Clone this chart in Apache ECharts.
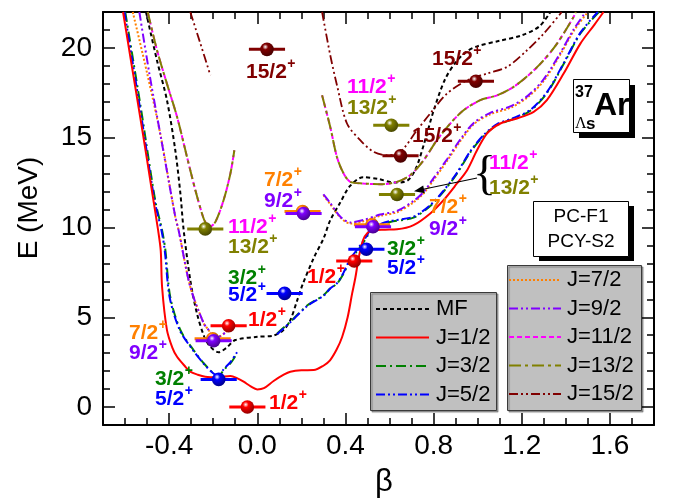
<!DOCTYPE html>
<html>
<head>
<meta charset="utf-8">
<script src="https://cdn.jsdelivr.net/npm/echarts@6/dist/echarts.min.js"></script>
<style>
html, body { margin: 0; padding: 0; background: #fff; }
#chart { width: 675px; height: 498px; }
</style>
</head>
<body>
<div id="chart"></div>
<script>
const FONT = '"Liberation Sans", Arial, Helvetica, sans-serif';

// Axis ticks
const xMajorTicks = [-0.4, 0.0, 0.4, 0.8, 1.2, 1.6];
const xMinorTicks = [-0.6, -0.5, -0.3, -0.2, -0.1, 0.1, 0.2, 0.3, 0.5, 0.6, 0.7, 0.9, 1.0, 1.1, 1.3, 1.4, 1.5, 1.7];
const yMajorTicks = [0, 5, 10, 15, 20];
const yMinorTicks = [-1, 1, 2, 3, 4, 6, 7, 8, 9, 11, 12, 13, 14, 16, 17, 18, 19, 21];

// Projected energy curves E(beta), [beta, E in MeV]
const curveMF = [
  [-0.505, 22], [-0.455, 19.3], [-0.41, 17.1], [-0.372, 14.3], [-0.349, 11.9], [-0.334, 9.85],
  [-0.304, 7.07], [-0.274, 5.22], [-0.24, 3.9], [-0.213, 3.36], [-0.175, 3.05], [-0.14, 3.3],
  [-0.1, 3.73], [0.0, 3.91], [0.074, 3.98], [0.12, 4.3], [0.15, 4.84], [0.18, 5.9], [0.205, 6.8],
  [0.256, 8.3], [0.301, 9.4], [0.331, 10.4], [0.377, 11.4], [0.42, 12.3], [0.48, 12.8],
  [0.55, 12.7], [0.62, 12.5], [0.68, 12.6], [0.72, 13.3], [0.76, 14.8], [0.8, 16.5],
  [0.85, 18.2], [0.9, 19.2], [0.95, 19.8], [1.0, 20.1], [1.1, 20.4], [1.2, 20.7],
  [1.28, 21.2], [1.33, 22]
];
const curveJ1 = [
  [-0.609, 22], [-0.576, 19.5], [-0.52, 15.3], [-0.48, 12.2], [-0.45, 9.85], [-0.438, 8.7],
  [-0.432, 6.7], [-0.41, 4.3], [-0.385, 3.3], [-0.364, 2.8], [-0.33, 2.3], [-0.304, 1.97],
  [-0.27, 1.8], [-0.236, 1.69], [-0.18, 1.66], [-0.122, 1.73], [-0.09, 1.6], [-0.062, 1.41],
  [-0.03, 1.15], [0.0, 0.98], [0.03, 1.05], [0.074, 1.45], [0.12, 1.8], [0.15, 1.97],
  [0.2, 2.05], [0.256, 2.06], [0.3, 2.3], [0.33, 2.6], [0.36, 3.2], [0.385, 3.9],
  [0.41, 5.0], [0.43, 6.3], [0.445, 7.2], [0.46, 8.3], [0.48, 9.3], [0.5, 9.7],
  [0.525, 9.85], [0.58, 9.88], [0.634, 9.9], [0.709, 10.13], [0.785, 10.78], [0.845, 11.52],
  [0.906, 12.45], [0.952, 13.19], [0.997, 14.3], [1.042, 15.23], [1.103, 15.79], [1.178, 16.07],
  [1.254, 16.44], [1.314, 17.09], [1.39, 18.57], [1.466, 20.24], [1.53, 21.3], [1.571, 22]
];
const curveJ3Left = [
  [-0.599, 22], [-0.53, 16.8], [-0.463, 11.5], [-0.432, 9.85], [-0.417, 8.74], [-0.395, 6.14],
  [-0.349, 4.29], [-0.289, 3.17], [-0.236, 2.34], [-0.198, 1.88], [-0.175, 1.72], [-0.153, 2.06],
  [-0.122, 2.43], [-0.092, 2.99]
];
const curveJ3Right = [
  [0.09, 4.1], [0.15, 4.75], [0.226, 5.65], [0.301, 6.23], [0.331, 6.61], [0.362, 6.88],
  [0.39, 7.4], [0.422, 8.18], [0.467, 8.92], [0.498, 9.48], [0.513, 9.85], [0.56, 10.15],
  [0.603, 10.31], [0.709, 10.55], [0.785, 11.2], [0.845, 12.0], [0.906, 13.0], [0.967, 14.2],
  [1.027, 15.1], [1.088, 15.7], [1.163, 16.05], [1.239, 16.5], [1.315, 17.5], [1.39, 19.1],
  [1.466, 20.8], [1.55, 22]
];
const curveJ5Left = [
  [-0.603, 22], [-0.534, 16.8], [-0.466, 11.5], [-0.435, 9.85], [-0.42, 8.74], [-0.398, 6.14],
  [-0.352, 4.29], [-0.292, 3.17], [-0.238, 2.34], [-0.2, 1.88], [-0.176, 1.72], [-0.153, 2.1],
  [-0.122, 2.5], [-0.092, 3.05]
];
const curveJ5Right = [
  [0.09, 4.05], [0.15, 4.72], [0.226, 5.62], [0.301, 6.2], [0.331, 6.6], [0.362, 6.9],
  [0.39, 7.45], [0.422, 8.25], [0.467, 9.0], [0.498, 9.55], [0.513, 9.9], [0.56, 10.2],
  [0.603, 10.36], [0.709, 10.6], [0.785, 11.25], [0.845, 12.05], [0.906, 13.05], [0.967, 14.25],
  [1.027, 15.15], [1.088, 15.75], [1.163, 16.1], [1.239, 16.55], [1.315, 17.55], [1.39, 19.15],
  [1.466, 20.85], [1.545, 22]
];
const curveJ7Left = [
  [-0.565, 22], [-0.5, 18.6], [-0.44, 15.2], [-0.372, 10.6], [-0.357, 9.85], [-0.304, 6.7],
  [-0.243, 4.66], [-0.221, 4.29], [-0.2, 3.85], [-0.175, 3.9], [-0.14, 4.2], [-0.115, 4.5]
];
const curveJ7Right = [
  [0.3, 11.8], [0.331, 11.3], [0.377, 10.55], [0.422, 10.22], [0.482, 10.35], [0.558, 10.65],
  [0.634, 10.85], [0.709, 11.4], [0.755, 11.9], [0.8, 12.65], [0.861, 13.7], [0.921, 14.8],
  [0.982, 15.75], [1.057, 16.3], [1.148, 16.66], [1.224, 17.22], [1.299, 18.15], [1.375, 19.63],
  [1.435, 20.93], [1.5, 22]
];
const curveJ9Left = [
  [-0.535, 22], [-0.49, 18.6], [-0.44, 15.2], [-0.372, 10.6], [-0.357, 9.85], [-0.304, 6.7],
  [-0.243, 4.66], [-0.221, 4.29], [-0.2, 3.85], [-0.175, 3.9], [-0.14, 4.2], [-0.115, 4.5]
];
const curveJ9Right = [
  [0.3, 11.85], [0.331, 11.36], [0.377, 10.6], [0.422, 10.28], [0.482, 10.42], [0.558, 10.72],
  [0.634, 10.92], [0.709, 11.48], [0.755, 11.98], [0.8, 12.75], [0.861, 13.8], [0.921, 14.9],
  [0.982, 15.82], [1.057, 16.38], [1.148, 16.74], [1.224, 17.3], [1.299, 18.25], [1.375, 19.72],
  [1.435, 21.02], [1.49, 22]
];
const curveJ11Left = [
  [-0.497, 22], [-0.455, 19.87], [-0.41, 18.01], [-0.364, 16.16], [-0.319, 13.93], [-0.281, 12.08],
  [-0.251, 10.78], [-0.236, 10.3], [-0.215, 10.05], [-0.19, 10.31], [-0.153, 11.52], [-0.122, 13.0],
  [-0.104, 14.3]
];
const curveJ11Right = [
  [0.294, 17.36], [0.331, 15.6], [0.362, 13.9], [0.392, 13.0], [0.422, 12.54], [0.482, 12.45],
  [0.558, 12.41], [0.634, 12.54], [0.694, 12.91], [0.755, 13.75], [0.815, 14.86], [0.876, 15.79],
  [0.936, 16.53], [1.012, 17.09], [1.088, 17.36], [1.163, 17.83], [1.239, 18.57], [1.299, 19.31],
  [1.36, 20.24], [1.435, 21.72], [1.445, 22]
];
const curveJ13Left = curveJ11Left;
const curveJ13Right = curveJ11Right;
const curveJ15Left = [
  [-0.304, 22], [-0.258, 20.24], [-0.213, 18.48]
];
const curveJ15Right = [
  [0.294, 22], [0.331, 19.6], [0.362, 17.9], [0.407, 15.79], [0.467, 14.86], [0.528, 14.21],
  [0.589, 14.02], [0.649, 14.21], [0.725, 15.42], [0.785, 16.35], [0.861, 17.46], [0.952, 18.2],
  [1.042, 18.57], [1.133, 18.94], [1.224, 19.87], [1.299, 20.79], [1.375, 21.9], [1.38, 22]
];

// Lowest states: [beta, E in MeV]
const statesHalf = [[-0.045, 0.0], [-0.13, 4.53], [0.44, 8.13]];          // 1/2+
const statesThreeFive = [[-0.175, 1.54], [0.124, 6.33], [0.495, 8.79]];   // 3/2+, 5/2+
const statesSevenNine = [[-0.198, 3.69], [0.21, 10.78], [0.525, 10.04]];  // 7/2+, 9/2+
const statesElevenThirteen = [[-0.236, 9.92], [0.608, 15.69], [0.634, 11.84]]; // 11/2+, 13/2+
const statesFifteen = [[0.044, 19.92], [0.65, 13.99], [0.992, 18.14]];    // 15/2+

const C = {
  black: '#000000', red: '#ff0000', green: '#008000', blue: '#0000ff', orange: '#ff8000',
  purple: '#8000ff', magenta: '#ff00ff', olive: '#808000', darkred: '#800000'
};
const DASH = {
  mf: [4, 3], dashDot: [10, 4, 2, 4], dashDotDot: [9, 3, 2, 3, 2, 3],
  dot: [2, 2], shortDash: [5, 3], longDashDot: [12, 4, 3, 4]
};

function withGap(a, b) {
  const gapX = (a[a.length - 1][0] + b[0][0]) / 2;
  return a.concat([[gapX, '-']], b);
}

function curve(name, data, color, dash, width) {
  return {
    type: 'line', name, data, symbol: 'none', showSymbol: false, smooth: 0.3,
    connectNulls: false, clip: true, silent: true, z: 3,
    lineStyle: { color, width: width || 2, type: dash || 'solid' }
  };
}

const BAR_HALF = 0.082;
function shade(hex, f) {
  const n = parseInt(hex.slice(1), 16);
  const r = Math.round(((n >> 16) & 255) * f), g = Math.round(((n >> 8) & 255) * f), b = Math.round((n & 255) * f);
  return 'rgb(' + r + ',' + g + ',' + b + ')';
}
function levels(name, data, color, offset) {
  const dx = offset ? offset[0] : 0, dy = offset ? offset[1] : 0;
  return {
    type: 'custom', name, data, z: 10, clip: false, silent: true,
    renderItem(params, api) {
      const b = api.value(0), e = api.value(1);
      const p = api.coord([b, e]);
      const l = api.coord([b - BAR_HALF, e]);
      const r = api.coord([b + BAR_HALF, e]);
      return {
        type: 'group',
        children: [
          { type: 'line', shape: { x1: l[0] + dx, y1: l[1] + dy, x2: r[0] + dx, y2: r[1] + dy },
            style: { stroke: color, lineWidth: 3 } },
          { type: 'circle', shape: { cx: p[0] + dx, cy: p[1] + dy, r: 6.8 },
            style: { fill: new echarts.graphic.RadialGradient(0.38, 0.32, 0.7, [
              { offset: 0, color: '#ffffff' }, { offset: 0.3, color: color }, { offset: 1, color: shade(color, 0.55) }
            ]) } }
        ]
      };
    }
  };
}

// Spin labels: text, colour, left x, centre y
const spinLabels = [
  ['1/2', 'red', 269, 403],
  ['3/2', 'green', 155, 379], ['5/2', 'blue', 155, 399],
  ['7/2', 'orange', 129, 333], ['9/2', 'purple', 129, 353],
  ['1/2', 'red', 248, 320],
  ['3/2', 'green', 228, 278], ['5/2', 'blue', 228, 295],
  ['1/2', 'red', 307, 277],
  ['11/2', 'magenta', 228, 227], ['13/2', 'olive', 228, 247],
  ['7/2', 'orange', 264, 180], ['9/2', 'purple', 264, 201],
  ['15/2', 'darkred', 246, 72],
  ['11/2', 'magenta', 347, 87], ['13/2', 'olive', 347, 108],
  ['15/2', 'darkred', 432, 59],
  ['15/2', 'darkred', 412, 136],
  ['11/2', 'magenta', 489, 163], ['13/2', 'olive', 489, 188],
  ['7/2', 'orange', 429, 207], ['9/2', 'purple', 429, 229],
  ['3/2', 'green', 387, 249], ['5/2', 'blue', 387, 268]
];

const legendLeft = [
  ['MF', C.black, DASH.mf], ['J=1/2', C.red, null], ['J=3/2', C.green, DASH.dashDot], ['J=5/2', C.blue, DASH.dashDotDot]
];
const legendRight = [
  ['J=7/2', C.orange, DASH.dot], ['J=9/2', C.purple, DASH.dashDotDot], ['J=11/2', C.magenta, DASH.shortDash],
  ['J=13/2', C.olive, DASH.longDashDot], ['J=15/2', C.darkred, DASH.dashDotDot]
];

const measureCtx = document.createElement('canvas').getContext('2d');
const LABEL_FONT = 'bold 21px ' + FONT;

const graphics = [];
spinLabels.forEach(([t, col, x, y]) => {
  const c = C[col];
  measureCtx.font = LABEL_FONT;
  const w = measureCtx.measureText(t).width;
  graphics.push({
    type: 'text', x, y, z: 20, silent: true,
    style: { text: t, font: LABEL_FONT, fill: c, verticalAlign: 'middle', align: 'left' }
  });
  graphics.push({
    type: 'text', x: x + w + 0.5, y: y - 8, z: 20, silent: true,
    style: { text: '+', font: 'bold 14px ' + FONT, fill: c, verticalAlign: 'middle', align: 'left' }
  });
});

// axis titles
graphics.push({ type: 'text', x: 29, y: 208, rotation: Math.PI / 2, z: 20, silent: true,
  style: { text: 'E (MeV)', fontFamily: FONT, fontSize: 28, fill: '#000', verticalAlign: 'middle', align: 'center' } });
graphics.push({ type: 'text', x: 384, y: 482, z: 20, silent: true,
  style: { text: 'β', fontFamily: FONT, fontSize: 31, fill: '#000', verticalAlign: 'middle', align: 'center' } });

// brace and arrow
graphics.push({ type: 'text', x: 473, y: 176, z: 20, silent: true,
  style: { text: '{', fontFamily: '"Liberation Serif", "DejaVu Serif", serif', fontSize: 48, fill: '#000', verticalAlign: 'middle', align: 'left' } });
graphics.push({ type: 'line', z: 20, silent: true, shape: { x1: 477, y1: 178, x2: 422, y2: 189.5 }, style: { stroke: '#000', lineWidth: 1.2 } });
graphics.push({ type: 'polygon', z: 20, silent: true, shape: { points: [[414, 191.2], [424.8, 193.2], [423.2, 185.4]] }, style: { fill: '#000' } });

function legendBox(x, y, w, h, items, y0, lx1, lx2, tx) {
  graphics.push({ type: 'rect', z: 15, silent: true, shape: { x, y, width: w, height: h },
    style: { fill: '#c0c0c0', stroke: '#3a3a3a', lineWidth: 1, shadowColor: 'rgba(0,0,0,0.35)', shadowOffsetX: 1.5, shadowOffsetY: 1.5, shadowBlur: 1 } });
  items.forEach(([label, color, dash], i) => {
    const yy = y0 + i * 28.5;
    graphics.push({ type: 'line', z: 16, silent: true, shape: { x1: lx1, y1: yy, x2: lx2, y2: yy },
      style: { stroke: color, lineWidth: 2, lineDash: dash || null } });
    graphics.push({ type: 'text', z: 16, silent: true, x: tx, y: yy,
      style: { text: label, fontFamily: FONT, fontSize: 22, fill: '#000', verticalAlign: 'middle', align: 'left' } });
  });
}
legendBox(370.5, 292.5, 126, 118, legendLeft, 309, 376, 429, 436);
legendBox(507.5, 265.5, 134, 145, legendRight, 280, 509, 561, 567);

// nucleus box
graphics.push({ type: 'rect', z: 15, silent: true, shape: { x: 579, y: 85, width: 56, height: 53 }, style: { fill: '#000' } });
graphics.push({ type: 'rect', z: 16, silent: true, shape: { x: 573.5, y: 79.5, width: 56, height: 53 }, style: { fill: '#fff', stroke: '#000', lineWidth: 1 } });
graphics.push({ type: 'text', z: 17, silent: true, x: 575, y: 93,
  style: { text: '37', fontFamily: FONT, fontSize: 16, fontWeight: 'bold', fill: '#000', verticalAlign: 'middle', align: 'left' } });
graphics.push({ type: 'text', z: 17, silent: true, x: 575, y: 124,
  style: { text: 'Λ', fontFamily: '"Liberation Serif", serif', fontSize: 16, fill: '#000', verticalAlign: 'middle', align: 'left' } });
graphics.push({ type: 'text', z: 17, silent: true, x: 586, y: 124,
  style: { text: 's', fontFamily: FONT, fontSize: 17, fontWeight: 'bold', fill: '#000', verticalAlign: 'middle', align: 'left' } });
graphics.push({ type: 'text', z: 17, silent: true, x: 594, y: 106,
  style: { text: 'Ar', fontFamily: FONT, fontSize: 32, fontWeight: 'bold', fill: '#000', verticalAlign: 'middle', align: 'left' } });

// interaction box
graphics.push({ type: 'rect', z: 15, silent: true, shape: { x: 539, y: 206, width: 95, height: 55 }, style: { fill: '#000' } });
graphics.push({ type: 'rect', z: 16, silent: true, shape: { x: 533.5, y: 201.5, width: 95, height: 55 }, style: { fill: '#fff', stroke: '#000', lineWidth: 1 } });
graphics.push({ type: 'text', z: 17, silent: true, x: 581, y: 217,
  style: { text: 'PC-F1', fontFamily: FONT, fontSize: 19, fill: '#000', verticalAlign: 'middle', align: 'center' } });
graphics.push({ type: 'text', z: 17, silent: true, x: 581, y: 242,
  style: { text: 'PCY-S2', fontFamily: FONT, fontSize: 19, fill: '#000', verticalAlign: 'middle', align: 'center' } });

const axisBase = { type: 'value', splitLine: { show: false } };
const X_MIN = -0.7, X_MAX = 1.8, Y_MIN = -1, Y_MAX = 22;
const tickStyle = { color: '#000', width: 1.5 };

const option = {
  animation: false,
  backgroundColor: '#ffffff',
  grid: { left: 103, right: 21, top: 12, bottom: 73, containLabel: false },
  xAxis: [
    Object.assign({}, axisBase, {
      min: X_MIN, max: X_MAX, position: 'bottom',
      axisLine: { show: true, onZero: false, lineStyle: { color: '#000', width: 2 } },
      axisTick: { show: true, inside: true, length: 12, customValues: xMajorTicks, lineStyle: tickStyle },
      axisLabel: { show: true, customValues: xMajorTicks, formatter: v => v.toFixed(1), fontFamily: FONT, fontSize: 28, color: '#000', margin: 7 }
    }),
    Object.assign({}, axisBase, {
      min: X_MIN, max: X_MAX, position: 'bottom',
      axisLine: { show: false, onZero: false },
      axisTick: { show: true, inside: true, length: 7, customValues: xMinorTicks, lineStyle: tickStyle },
      axisLabel: { show: false }
    }),
    Object.assign({}, axisBase, {
      min: X_MIN, max: X_MAX, position: 'top',
      axisLine: { show: true, onZero: false, lineStyle: { color: '#000', width: 2 } },
      axisTick: { show: true, inside: true, length: 12, customValues: xMajorTicks, lineStyle: tickStyle },
      axisLabel: { show: false }
    }),
    Object.assign({}, axisBase, {
      min: X_MIN, max: X_MAX, position: 'top',
      axisLine: { show: false, onZero: false },
      axisTick: { show: true, inside: true, length: 7, customValues: xMinorTicks, lineStyle: tickStyle },
      axisLabel: { show: false }
    })
  ],
  yAxis: [
    Object.assign({}, axisBase, {
      min: Y_MIN, max: Y_MAX, position: 'left',
      axisLine: { show: true, onZero: false, lineStyle: { color: '#000', width: 2 } },
      axisTick: { show: true, inside: true, length: 12, customValues: yMajorTicks, lineStyle: tickStyle },
      axisLabel: { show: true, customValues: yMajorTicks, fontFamily: FONT, fontSize: 28, color: '#000', margin: 11 }
    }),
    Object.assign({}, axisBase, {
      min: Y_MIN, max: Y_MAX, position: 'left',
      axisLine: { show: false, onZero: false },
      axisTick: { show: true, inside: true, length: 7, customValues: yMinorTicks, lineStyle: tickStyle },
      axisLabel: { show: false }
    }),
    Object.assign({}, axisBase, {
      min: Y_MIN, max: Y_MAX, position: 'right',
      axisLine: { show: true, onZero: false, lineStyle: { color: '#000', width: 2 } },
      axisTick: { show: true, inside: true, length: 12, customValues: yMajorTicks, lineStyle: tickStyle },
      axisLabel: { show: false }
    }),
    Object.assign({}, axisBase, {
      min: Y_MIN, max: Y_MAX, position: 'right',
      axisLine: { show: false, onZero: false },
      axisTick: { show: true, inside: true, length: 7, customValues: yMinorTicks, lineStyle: tickStyle },
      axisLabel: { show: false }
    })
  ],
  series: [
    curve('MF', curveMF, C.black, DASH.mf, 2),
    curve('J=15/2', withGap(curveJ15Left, curveJ15Right), C.darkred, DASH.dashDotDot, 1.8),
    curve('J=11/2', withGap(curveJ11Left, curveJ11Right), C.magenta, DASH.shortDash, 2),
    curve('J=13/2', withGap(curveJ13Left, curveJ13Right), C.olive, DASH.longDashDot, 2),
    curve('J=7/2', withGap(curveJ7Left, curveJ7Right), C.orange, DASH.dot, 2),
    curve('J=9/2', withGap(curveJ9Left, curveJ9Right), C.purple, DASH.dashDotDot, 2),
    curve('J=3/2', withGap(curveJ3Left, curveJ3Right), C.green, DASH.dashDot, 2),
    curve('J=5/2', withGap(curveJ5Left, curveJ5Right), C.blue, DASH.dashDotDot, 2),
    curve('J=1/2', curveJ1, C.red, null, 2),
    levels('1/2+', statesHalf, C.red),
    levels('3/2+ 5/2+', statesThreeFive, C.blue),
    levels('7/2+', statesSevenNine, C.orange, [-1, -2]),
    levels('9/2+', statesSevenNine, C.purple),
    levels('11/2+ 13/2+', statesElevenThirteen, C.olive),
    levels('15/2+', statesFifteen, C.darkred)
  ],
  graphic: graphics
};

const chart = echarts.init(document.getElementById('chart'), null, { renderer: 'canvas' });
chart.setOption(option);
</script>
</body>
</html>
